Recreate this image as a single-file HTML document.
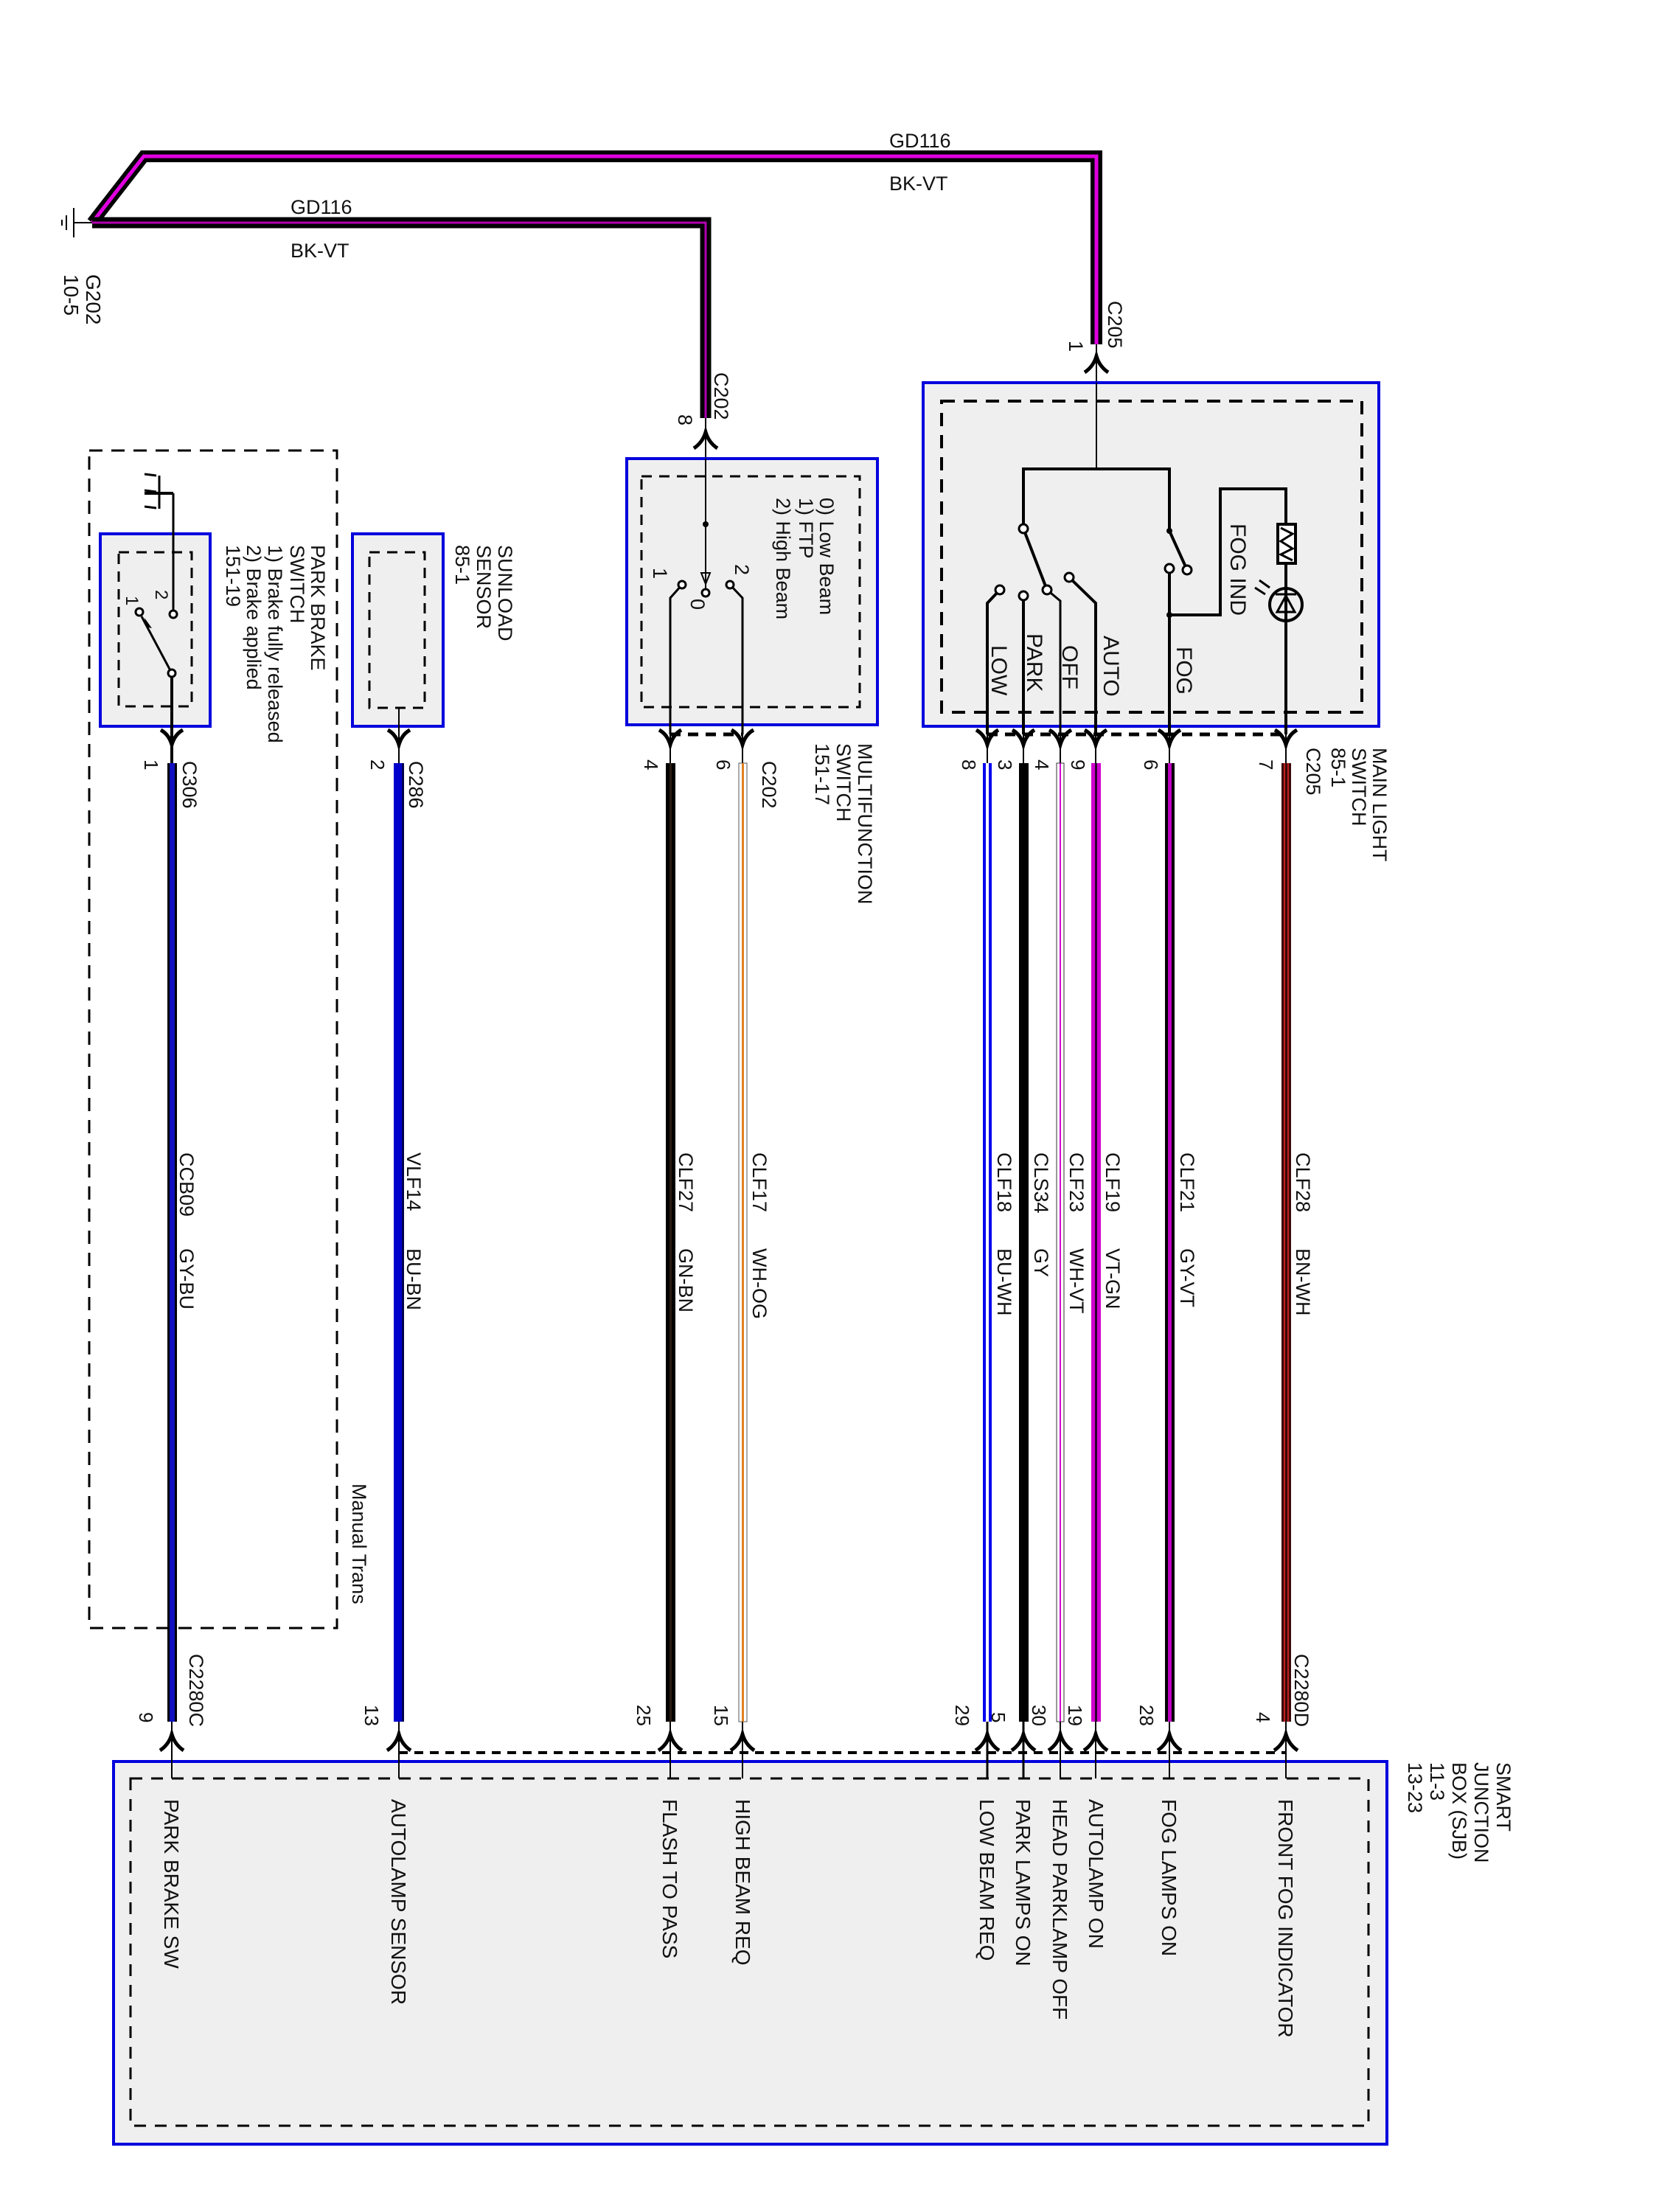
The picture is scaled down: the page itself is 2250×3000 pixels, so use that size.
<!DOCTYPE html>
<html><head><meta charset="utf-8">
<style>
html,body{margin:0;padding:0;background:#fff;}
svg{display:block;}
text{font-family:"Liberation Sans",Arial,sans-serif;fill:#111;}
</style></head>
<body>
<svg width="2250" height="3000" viewBox="0 0 2250 3000" xmlns="http://www.w3.org/2000/svg">
<defs>
<g id="dn"><path d="M-15,-16 Q-4,-10 0,4 Q4,-10 15,-16" fill="none" stroke="#000" stroke-width="5"/></g>
<g id="up"><path d="M-16,16 Q-4,8 0,-6 Q4,8 16,16" fill="none" stroke="#000" stroke-width="5"/></g>
</defs>

<!-- ground wires -->
<path d="M125,302 L195,212 L1487,212 L1487,467" fill="none" stroke="#000" stroke-width="16"/>
<path d="M125,302 L195,212 L1487,212 L1487,467" fill="none" stroke="#e000e0" stroke-width="5"/>
<path d="M125,302 L957,302 L957,567" fill="none" stroke="#000" stroke-width="15"/>
<path d="M125,302 L957,302 L957,567" fill="none" stroke="#b000b0" stroke-width="3"/>
<!-- ground symbol -->
<line x1="100" y1="302" x2="125" y2="302" stroke="#000" stroke-width="2"/>
<line x1="100" y1="282" x2="100" y2="322" stroke="#000" stroke-width="2"/>
<line x1="90" y1="292" x2="90" y2="312" stroke="#000" stroke-width="2"/>
<line x1="84" y1="298" x2="84" y2="306" stroke="#000" stroke-width="2"/>
<g font-size="28">
<text transform="translate(117,372) rotate(90)">G202</text>
<text transform="translate(87,372) rotate(90)">10-5</text>
</g>
<g font-size="27">
<text x="1206" y="200">GD116</text>
<text x="1206" y="258">BK-VT</text>
<text x="394" y="290">GD116</text>
<text x="394" y="349">BK-VT</text>
<text transform="translate(1503,408) rotate(90)">C205</text>
<text transform="translate(1450,462) rotate(90)">1</text>
<text transform="translate(969,505) rotate(90)">C202</text>
<text transform="translate(920,562) rotate(90)">8</text>
</g>
<line x1="1487" y1="467" x2="1487" y2="636" stroke="#000" stroke-width="2"/>
<line x1="957" y1="567" x2="957" y2="775" stroke="#000" stroke-width="2"/>

<!-- Main light switch -->
<rect x="1252" y="519" width="618" height="466" fill="#efefef" stroke="#0000dd" stroke-width="4"/>
<rect x="1277" y="544" width="570" height="422" fill="none" stroke="#000" stroke-width="4" stroke-dasharray="18,12"/>
<use href="#up" x="1487" y="489"/>
<line x1="1487" y1="519" x2="1487" y2="636" stroke="#000" stroke-width="2"/>
<g stroke="#000" stroke-width="4" fill="none">
<path d="M1388,717 L1388,636 L1586,636 L1586,720"/>
<line x1="1388" y1="717" x2="1420" y2="800"/>
<path d="M1356,800 L1339,818 L1339,996"/>
<line x1="1388" y1="808" x2="1388" y2="996"/>
<path d="M1420,800 L1438,815 L1438,996" stroke-width="3"/>
<path d="M1450,783 L1486,818 L1486,996"/>
<line x1="1586" y1="720" x2="1610" y2="773"/>
<line x1="1586" y1="771" x2="1586" y2="996"/>
<path d="M1586,834 L1655,834 L1655,663 L1744,663 L1744,996"/>
<circle cx="1744" cy="820" r="22"/>
</g>
<g fill="#fff" stroke="#000" stroke-width="3">
<circle cx="1388" cy="717" r="6"/><circle cx="1420" cy="800" r="6"/>
<circle cx="1356" cy="800" r="6"/><circle cx="1388" cy="808" r="6"/>
<circle cx="1450" cy="783" r="6"/><circle cx="1610" cy="773" r="6"/>
<circle cx="1586" cy="771" r="6"/>
</g>
<circle cx="1586" cy="720" r="4" fill="#000"/><circle cx="1586" cy="834" r="4" fill="#000"/>
<rect x="1733" y="711" width="24" height="53" fill="#fff" stroke="#000" stroke-width="4"/>
<path d="M1737,716 L1753,724 L1737,734 L1753,744 L1737,752 L1753,760" fill="none" stroke="#000" stroke-width="3"/>
<path d="M1732,830 L1756,830 L1744,808 Z M1730,806 L1758,806" fill="none" stroke="#000" stroke-width="3"/>
<line x1="1722" y1="797" x2="1708" y2="787" stroke="#000" stroke-width="3"/>
<line x1="1716" y1="806" x2="1702" y2="797" stroke="#000" stroke-width="3"/>
<g font-size="30">
<text transform="translate(1669,710) rotate(90)">FOG IND</text>
<text transform="translate(1345,875) rotate(90)">LOW</text>
<text transform="translate(1393,859) rotate(90)">PARK</text>
<text transform="translate(1441,875) rotate(90)">OFF</text>
<text transform="translate(1497,862) rotate(90)">AUTO</text>
<text transform="translate(1596,877) rotate(90)">FOG</text>
</g>
<line x1="1339" y1="996" x2="1744" y2="996" stroke="#000" stroke-width="5" stroke-dasharray="14,10"/>

<!-- Multifunction switch -->
<rect x="850" y="622" width="340" height="361" fill="#efefef" stroke="#0000dd" stroke-width="4"/>
<rect x="870" y="646" width="296" height="313" fill="none" stroke="#000" stroke-width="3" stroke-dasharray="14,10"/>
<use href="#up" x="957" y="592"/>
<line x1="957" y1="622" x2="957" y2="800" stroke="#000" stroke-width="2"/>
<circle cx="957" cy="711" r="4" fill="#000"/>
<path d="M951,777 L963,777 L957,792 Z" fill="none" stroke="#000" stroke-width="2"/>
<circle cx="957" cy="804" r="5" fill="#fff" stroke="#000" stroke-width="3"/>
<path d="M925,793 L909,811 L909,996 M990,793 L1007,811 L1007,996" fill="none" stroke="#000" stroke-width="3"/>
<circle cx="925" cy="793" r="5" fill="#fff" stroke="#000" stroke-width="3"/>
<circle cx="990" cy="793" r="5" fill="#fff" stroke="#000" stroke-width="3"/>
<line x1="909" y1="996" x2="1007" y2="996" stroke="#000" stroke-width="5" stroke-dasharray="14,10"/>
<g font-size="27">
<text transform="translate(1112,675) rotate(90)">0) Low Beam</text>
<text transform="translate(1084,675) rotate(90)">1) FTP</text>
<text transform="translate(1053,675) rotate(90)">2) High Beam</text>
<text transform="translate(886,770) rotate(90)">1</text>
<text transform="translate(997,765) rotate(90)">2</text>
<text transform="translate(937,812) rotate(90)">0</text>
</g>

<!-- Sunload -->
<rect x="478" y="724" width="123" height="261" fill="#efefef" stroke="#0000dd" stroke-width="4"/>
<rect x="501" y="749" width="75" height="211" fill="none" stroke="#000" stroke-width="3" stroke-dasharray="14,10"/>
<line x1="541" y1="960" x2="541" y2="1035" stroke="#000" stroke-width="2"/>

<!-- Park brake -->
<rect x="121" y="611" width="336" height="1597" fill="none" stroke="#000" stroke-width="3" stroke-dasharray="18,12"/>
<rect x="136" y="724" width="149" height="261" fill="#efefef" stroke="#0000dd" stroke-width="4"/>
<rect x="161" y="749" width="99" height="209" fill="none" stroke="#000" stroke-width="3" stroke-dasharray="14,10"/>
<g stroke="#000" stroke-width="3" fill="none">
<path d="M235,669 L235,833"/>
<path d="M196,669 L235,669" stroke-width="4"/>
<path d="M216,645 L216,690 M196,643 L212,645 M196,665 L212,667 M196,687 L212,689"/>
<line x1="233" y1="913" x2="192" y2="836"/>
<line x1="233" y1="913" x2="233" y2="1035" stroke-width="4"/>
</g>
<circle cx="235" cy="833" r="5" fill="#fff" stroke="#000" stroke-width="3"/>
<circle cx="189" cy="830" r="5" fill="#fff" stroke="#000" stroke-width="3"/>
<circle cx="233" cy="913" r="5" fill="#fff" stroke="#000" stroke-width="3"/>
<path d="M196,838 L206,852 L198,850 Z" fill="#000"/>
<g font-size="24">
<text transform="translate(211,800) rotate(90)">2</text>
<text transform="translate(171,808) rotate(90)">1</text>
</g>
<g font-size="27">
<text transform="translate(422,739) rotate(90)">PARK BRAKE</text>
<text transform="translate(394,739) rotate(90)">SWITCH</text>
<text transform="translate(364,739) rotate(90)">1)  Brake fully released</text>
<text transform="translate(335,739) rotate(90)">2)  Brake applied</text>
<text transform="translate(307,739) rotate(90)">151-19</text>
<text transform="translate(676,739) rotate(90)">SUNLOAD</text>
<text transform="translate(647,739) rotate(90)">SENSOR</text>
<text transform="translate(618,739) rotate(90)">85-1</text>
<text transform="translate(1164,1008) rotate(90)">MULTIFUNCTION</text>
<text transform="translate(1135,1008) rotate(90)">SWITCH</text>
<text transform="translate(1106,1008) rotate(90)">151-17</text>
<text transform="translate(1862,1014) rotate(90)">MAIN LIGHT</text>
<text transform="translate(1834,1014) rotate(90)">SWITCH</text>
<text transform="translate(1806,1014) rotate(90)">85-1</text>
<text transform="translate(1772,1014) rotate(90)">C205</text>
<text transform="translate(248,1032) rotate(90)">C306</text>
<text transform="translate(555,1032) rotate(90)">C286</text>
<text transform="translate(1034,1032) rotate(90)">C202</text>
<text transform="translate(478,2012) rotate(90)">Manual Trans</text>
</g>
<!-- pin numbers top -->
<g font-size="26">
<text transform="translate(196,1030) rotate(90)">1</text>
<text transform="translate(503,1030) rotate(90)">2</text>
<text transform="translate(874,1030) rotate(90)">4</text>
<text transform="translate(972,1030) rotate(90)">6</text>
<text transform="translate(1305,1030) rotate(90)">8</text>
<text transform="translate(1354,1030) rotate(90)">3</text>
<text transform="translate(1404,1030) rotate(90)">4</text>
<text transform="translate(1453,1030) rotate(90)">9</text>
<text transform="translate(1552,1030) rotate(90)">6</text>
<text transform="translate(1708,1030) rotate(90)">7</text>
</g>
<!-- connector arrows top -->
<g>
<use href="#dn" x="233" y="1006"/><use href="#dn" x="541" y="1006"/>
<use href="#dn" x="909" y="1006"/><use href="#dn" x="1007" y="1006"/>
<use href="#dn" x="1339" y="1006"/><use href="#dn" x="1388" y="1006"/>
<use href="#dn" x="1438" y="1006"/><use href="#dn" x="1486" y="1006"/>
<use href="#dn" x="1586" y="1006"/><use href="#dn" x="1744" y="1006"/>
</g>
<line x1="541" y1="985" x2="541" y2="1035" stroke="#000" stroke-width="2"/>
<g stroke="#000" stroke-width="2">
<line x1="909" y1="996" x2="909" y2="1035"/><line x1="1007" y1="996" x2="1007" y2="1035"/>
<line x1="1339" y1="996" x2="1339" y2="1035"/><line x1="1388" y1="996" x2="1388" y2="1035"/>
<line x1="1438" y1="996" x2="1438" y2="1035"/><line x1="1486" y1="996" x2="1486" y2="1035"/>
<line x1="1586" y1="996" x2="1586" y2="1035"/><line x1="1744" y1="996" x2="1744" y2="1035"/>
</g>

<!-- main wires -->
<g>
<rect x="227" y="1035" width="13" height="1300" fill="#000"/><rect x="230" y="1035" width="7" height="1300" fill="#1010c0"/>
<rect x="534" y="1035" width="14" height="1300" fill="#0000cc"/><rect x="545" y="1035" width="3" height="1300" fill="#000050"/>
<rect x="903" y="1035" width="13" height="1300" fill="#000"/><rect x="908" y="1035" width="3" height="1300" fill="#2a1a10"/>
<rect x="1002" y="1035" width="11" height="1300" fill="#fff" stroke="#555" stroke-width="1"/><rect x="1006" y="1035" width="3" height="1300" fill="#e08020"/>
<rect x="1333" y="1035" width="12" height="1300" fill="#0000ee"/><rect x="1337" y="1035" width="4" height="1300" fill="#fff"/>
<rect x="1382" y="1035" width="13" height="1300" fill="#000"/>
<rect x="1433" y="1035" width="10" height="1300" fill="#fff" stroke="#333" stroke-width="1"/><rect x="1437" y="1035" width="2" height="1300" fill="#d000d0"/>
<rect x="1480" y="1035" width="13" height="1300" fill="#d000d0"/><rect x="1485" y="1035" width="3" height="1300" fill="#300030"/>
<rect x="1580" y="1035" width="13" height="1300" fill="#000"/><rect x="1584" y="1035" width="5" height="1300" fill="#c000c0"/>
<rect x="1738" y="1035" width="13" height="1300" fill="#3a0a08"/><rect x="1741" y="1035" width="2" height="1300" fill="#c02020"/><rect x="1746" y="1035" width="2" height="1300" fill="#c02020"/>
</g>
<!-- wire labels -->
<g font-size="27">
<text transform="translate(244,1563) rotate(90)">CCB09</text><text transform="translate(244,1693) rotate(90)">GY-BU</text>
<text transform="translate(552,1563) rotate(90)">VLF14</text><text transform="translate(552,1693) rotate(90)">BU-BN</text>
<text transform="translate(921,1563) rotate(90)">CLF27</text><text transform="translate(921,1693) rotate(90)">GN-BN</text>
<text transform="translate(1021,1563) rotate(90)">CLF17</text><text transform="translate(1021,1693) rotate(90)">WH-OG</text>
<text transform="translate(1353,1563) rotate(90)">CLF18</text><text transform="translate(1353,1693) rotate(90)">BU-WH</text>
<text transform="translate(1403,1563) rotate(90)">CLS34</text><text transform="translate(1403,1693) rotate(90)">GY</text>
<text transform="translate(1451,1563) rotate(90)">CLF23</text><text transform="translate(1451,1693) rotate(90)">WH-VT</text>
<text transform="translate(1500,1563) rotate(90)">CLF19</text><text transform="translate(1500,1693) rotate(90)">VT-GN</text>
<text transform="translate(1601,1563) rotate(90)">CLF21</text><text transform="translate(1601,1693) rotate(90)">GY-VT</text>
<text transform="translate(1758,1563) rotate(90)">CLF28</text><text transform="translate(1758,1693) rotate(90)">BN-WH</text>
<text transform="translate(257,2243) rotate(90)">C2280C</text>
<text transform="translate(1756,2243) rotate(90)">C2280D</text>
</g>
<g font-size="26">
<text transform="translate(189,2322) rotate(90)">9</text>
<text transform="translate(495,2312) rotate(90)">13</text>
<text transform="translate(864,2312) rotate(90)">25</text>
<text transform="translate(969,2312) rotate(90)">15</text>
<text transform="translate(1296,2312) rotate(90)">29</text>
<text transform="translate(1345,2322) rotate(90)">5</text>
<text transform="translate(1400,2312) rotate(90)">30</text>
<text transform="translate(1449,2312) rotate(90)">19</text>
<text transform="translate(1546,2312) rotate(90)">28</text>
<text transform="translate(1704,2322) rotate(90)">4</text>
</g>

<!-- SJB -->
<rect x="154" y="2389" width="1727" height="519" fill="#efefef" stroke="#0000dd" stroke-width="4"/>
<rect x="177" y="2412" width="1679" height="471" fill="none" stroke="#000" stroke-width="3" stroke-dasharray="16,12"/>
<line x1="541" y1="2377" x2="1744" y2="2377" stroke="#000" stroke-width="4" stroke-dasharray="12,9"/>
<g stroke="#000" stroke-width="2">
<line x1="233" y1="2335" x2="233" y2="2412"/><line x1="541" y1="2335" x2="541" y2="2412"/>
<line x1="909" y1="2335" x2="909" y2="2412"/><line x1="1007" y1="2335" x2="1007" y2="2412"/>
<line x1="1339" y1="2335" x2="1339" y2="2412" stroke-width="3"/><line x1="1388" y1="2335" x2="1388" y2="2412" stroke-width="3"/>
<line x1="1438" y1="2335" x2="1438" y2="2412"/><line x1="1486" y1="2335" x2="1486" y2="2412"/>
<line x1="1586" y1="2335" x2="1586" y2="2412"/><line x1="1744" y1="2335" x2="1744" y2="2412"/>
</g>
<g>
<use href="#up" x="233" y="2358"/><use href="#up" x="541" y="2358"/>
<use href="#up" x="909" y="2358"/><use href="#up" x="1007" y="2358"/>
<use href="#up" x="1339" y="2358"/><use href="#up" x="1388" y="2358"/>
<use href="#up" x="1438" y="2358"/><use href="#up" x="1486" y="2358"/>
<use href="#up" x="1586" y="2358"/><use href="#up" x="1744" y="2358"/>
</g>
<g font-size="28">
<text transform="translate(223,2440) rotate(90)">PARK BRAKE SW</text>
<text transform="translate(531,2440) rotate(90)">AUTOLAMP SENSOR</text>
<text transform="translate(899,2440) rotate(90)">FLASH TO PASS</text>
<text transform="translate(998,2440) rotate(90)">HIGH BEAM REQ</text>
<text transform="translate(1329,2440) rotate(90)">LOW BEAM REQ</text>
<text transform="translate(1378,2440) rotate(90)">PARK LAMPS ON</text>
<text transform="translate(1428,2440) rotate(90)">HEAD PARKLAMP OFF</text>
<text transform="translate(1477,2440) rotate(90)">AUTOLAMP ON</text>
<text transform="translate(1576,2440) rotate(90)">FOG LAMPS ON</text>
<text transform="translate(1734,2440) rotate(90)">FRONT FOG INDICATOR</text>
</g>
<g font-size="27">
<text transform="translate(2030,2390) rotate(90)">SMART</text>
<text transform="translate(2000,2390) rotate(90)">JUNCTION</text>
<text transform="translate(1970,2390) rotate(90)">BOX (SJB)</text>
<text transform="translate(1940,2390) rotate(90)">11-3</text>
<text transform="translate(1910,2390) rotate(90)">13-23</text>
</g>
</svg>
</body></html>
